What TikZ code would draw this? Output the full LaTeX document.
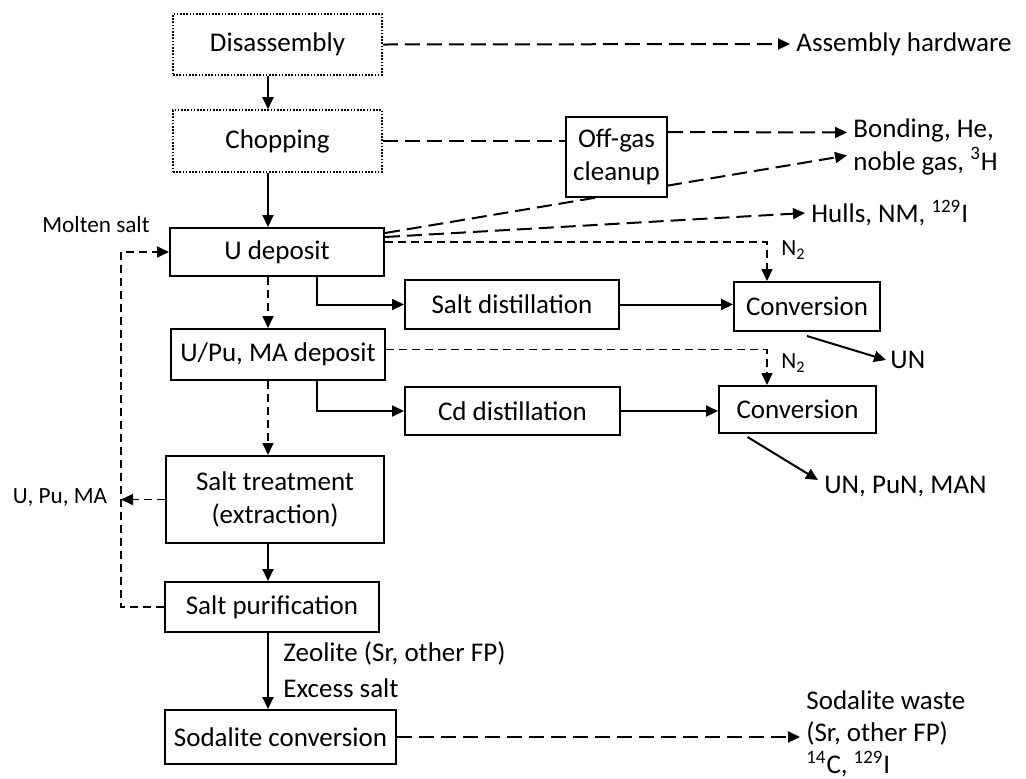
\documentclass[tikz,border=0pt]{standalone}
\usepackage{fontspec}
\setmainfont{Carlito}
\usetikzlibrary{arrows.meta}

\begin{document}
\begin{tikzpicture}[
  x=0.5pt, y=-0.5pt,
  >={Triangle[length=6pt,width=5.5pt]},
  every node/.style={font=\fontsize{13.5}{16.5}\selectfont},
  box/.style={rectangle, draw=black, line width=1pt, fill=white, inner sep=0pt, align=center},
  dotbox/.style={box, line width=0.8pt, dash pattern=on 0.8pt off 0.8pt},
  lbl/.style={inner sep=0pt, inner xsep=3pt, align=left, anchor=west},
  small/.style={font=\fontsize{11.6}{14}\selectfont, inner sep=0pt},
  flow/.style={->, line width=1pt},
  ldash/.style={->, line width=1pt, dash pattern=on 7.5pt off 3.5pt},
  sdash/.style={->, line width=0.8pt, dash pattern=on 4pt off 2.5pt}
]
\useasboundingbox (0,0) rectangle (1026,778);

% main column
\node[dotbox, minimum width=104.5pt, minimum height=30.5pt] (dis) at (277.5,44.5) {Disassembly};
\node[dotbox, minimum width=104.5pt, minimum height=31pt] (chop) at (277.5,141) {Chopping};
\node[box, minimum width=107pt, minimum height=24pt] (udep) at (277,252) {U deposit};
\node[box, minimum width=107pt, minimum height=25.5pt] (upu) at (278,354.5) {U/Pu, MA deposit};
\node[box, minimum width=109pt, minimum height=43.5pt] (treat) at (275,499.5) {Salt treatment\\(extraction)};
\node[box, minimum width=107pt, minimum height=25pt] (purif) at (272,607) {Salt purification};
\node[box, minimum width=115.5pt, minimum height=27pt] (soda) at (280.5,737) {Sodalite conversion};

% side branches
\node[box, minimum width=107pt, minimum height=24.5pt] (sdist) at (512,304.5) {Salt distillation};
\node[box, minimum width=73pt, minimum height=24.5pt] (conv1) at (807,306.5) {Conversion};
\node[box, minimum width=107.5pt, minimum height=24pt] (cdist) at (512.5,411) {Cd distillation};
\node[box, minimum width=78.5pt, minimum height=23.5pt] (conv2) at (797.5,409.5) {Conversion};

% outputs and labels
\node[lbl] (hw) at (790,44) {Assembly hardware};
\node[lbl] (bond) at (847,146.5) {Bonding, He,\\noble gas, \textsuperscript{3}H};
\node[lbl] (hulls) at (805,213) {Hulls, NM, \textsuperscript{129}I};
\node[lbl, inner xsep=2pt] (un) at (886,360) {UN};
\node[lbl] (unpu) at (818,487) {UN, PuN, MAN};
\node[lbl, font=\fontsize{13.5}{16}\selectfont] (waste) at (800,734) {Sodalite waste\\(Sr, other FP)\\\textsuperscript{14}C, \textsuperscript{129}I};
\node[lbl] (zeo) at (277,653) {Zeolite (Sr, other FP)};
\node[lbl] (excess) at (277,688) {Excess salt};
\node[small] (molten) at (96,225) {Molten salt};
\node[small] (upuma) at (60,498) {U, Pu, MA};
\node[small, anchor=west] (n2a) at (781,250) {N\textsubscript{2}};
\node[small, anchor=west] (n2b) at (781,363) {N\textsubscript{2}};

\coordinate (spine) at (268,0);
\coordinate (tap) at (316.5,0);
\coordinate (ncol) at (767,0);
\coordinate (loop) at (121,0);

% gas and solid streams (behind the off-gas box)
\draw[ldash] ([yshift=9.5pt]udep.east) -- ([yshift=-4.5pt]bond.west);
\draw[ldash] ([yshift=7.5pt]udep.east) -- (hulls.west);

\node[box, minimum width=50.5pt, minimum height=40pt] (offgas) at (616.5,157) {Off-gas\\cleanup};

\draw[ldash] (dis.east) -- (hw.west);
\draw[ldash, -] (chop.east) -- (chop.east -| offgas.west);
\draw[ldash] ([yshift=12.5pt]offgas.east) -- ([yshift=7pt]bond.west);

% main column flow
\draw[flow] (dis.south -| spine) -- (chop.north -| spine);
\draw[flow] (chop.south -| spine) -- (udep.north -| spine);
\draw[sdash] (udep.south -| spine) -- (upu.north -| spine);
\draw[sdash] (upu.south -| spine) -- (treat.north -| spine);
\draw[flow] (treat.south -| spine) -- (purif.north -| spine);
\draw[flow] (purif.south -| spine) -- (soda.north -| spine);

% distillation and conversion
\draw[flow] (udep.south -| tap) |- (sdist.west);
\draw[flow] (upu.south -| tap) |- (cdist.west);
\draw[flow] (sdist.east) -- (sdist.east -| conv1.west);
\draw[flow] (cdist.east) -- (cdist.east -| conv2.west);
\draw[sdash] ([yshift=5pt]udep.east) -| (conv1.north -| ncol);
\draw[sdash] ([yshift=2.5pt]upu.east) -| (conv2.north -| ncol);
\draw[flow] ([yshift=-2pt]conv1.south) -- (un.west);
\draw[flow] ([xshift=-25pt, yshift=-1.5pt]conv2.south) -- ([yshift=3.5pt]unpu.west);

% salt recycle
\draw[sdash] (purif.west) -- (purif.west -| loop) -- (udep.west -| loop) -- (udep.west);
\draw[sdash] (treat.west) -- (treat.west -| loop);

% waste
\draw[ldash] (soda.east) -- (soda.east -| waste.west);

\end{tikzpicture}
\end{document}
